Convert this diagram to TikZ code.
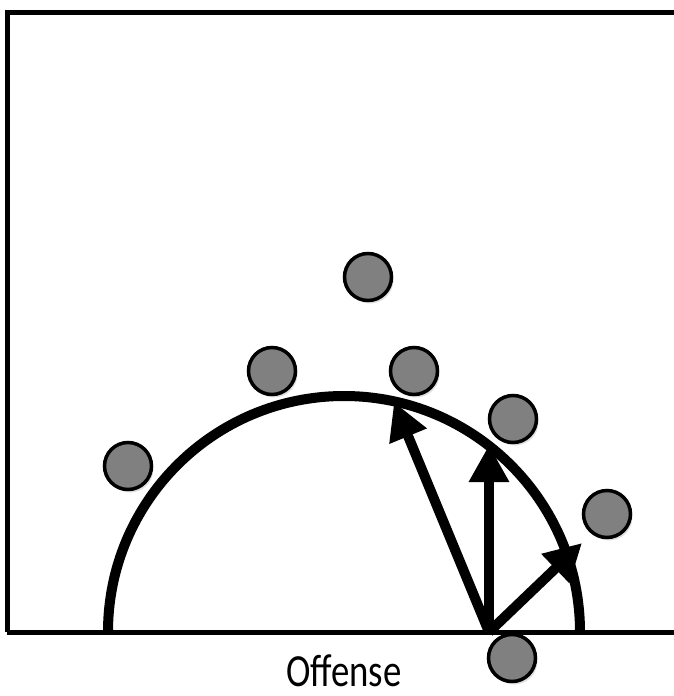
\documentclass[tikz,border=0pt]{standalone}
\usepackage{fontspec}
\setmainfont{Carlito}
\usetikzlibrary{arrows.meta,shadows}

\definecolor{playergray}{RGB}{128,128,128}
\tikzset{
  player/.style={circle,draw=black,line width=3.5pt,fill=playergray,
    minimum size=47pt,inner sep=0pt,
    drop shadow={opacity=0.25,shadow xshift=2pt,shadow yshift=-3pt}},
  move/.style={line width=10pt,-{Triangle[length=37pt,width=38pt]}}
}

\begin{document}
\begin{tikzpicture}[x=1pt,y=-1pt]
  \useasboundingbox (0,0) rectangle (674,696);
  % court
  \draw[line width=5pt] (7,632) -- (7,12) -- (674,12);
  \draw[line width=5pt] (7,632) -- (674,632);
  \draw[line width=10pt] (108,632) arc (180:360:236);
  % players
  \node[player] (top) at (368,277) {};
  \node[player] (wingl) at (272,371) {};
  \node[player] (wingr) at (414,371) {};
  \node[player] (cornl) at (128,466) {};
  \node[player] (elbow) at (513,419) {};
  \node[player] (cornr) at (607,514) {};
  \node[player] (ball) at (512,658) {};
  % moves
  \coordinate (o) at (489,632);
  \coordinate (t1) at (394,402);
  \coordinate (t2) at (489,445);
  \coordinate (t3) at (582,543);
  \draw[move] (o) -- (t1);
  \draw[move] (o) -- (t2);
  \draw[move] (o) -- (t3);
  \node[anchor=base,inner sep=0pt,font=\fontsize{46}{46}\selectfont] (lbl) at (344,686) {\scalebox{0.8}[1]{Offense}};
\end{tikzpicture}
\end{document}
